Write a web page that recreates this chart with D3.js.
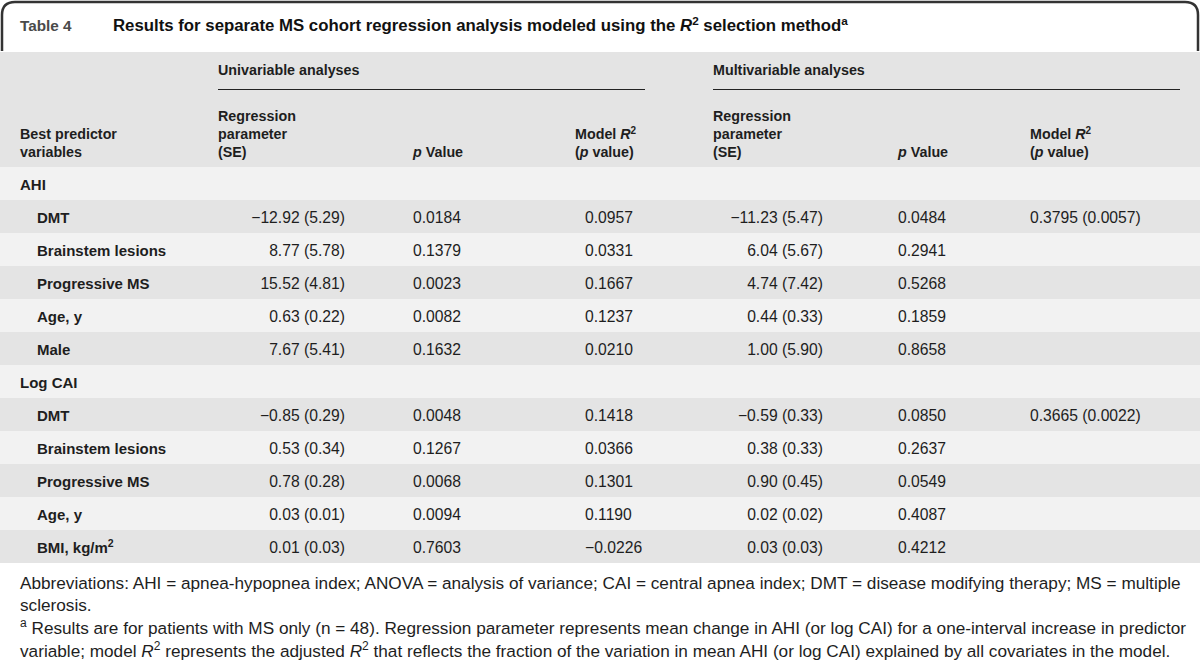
<!DOCTYPE html>
<html>
<head>
<meta charset="utf-8">
<script src="https://cdn.jsdelivr.net/npm/d3@7"></script>
<style>
  html, body { margin: 0; padding: 0; background: #fff; }
  svg { display: block; font-family: "Liberation Sans", "Helvetica", Arial, sans-serif; }
</style>
</head>
<body>
<svg id="chart" width="1200" height="667"></svg>
<script>
// ---------------- DATA ----------------
const tableNumber = "Table 4";
const groups = ["AHI", "Log CAI"];
const predictors = [
  ["DMT", "Brainstem lesions", "Progressive MS", "Age, y", "Male"],
  ["DMT", "Brainstem lesions", "Progressive MS", "Age, y", "BMI, kg/m²"]
];
const uniRegression = [
  ["−12.92 (5.29)", "8.77 (5.78)", "15.52 (4.81)", "0.63 (0.22)", "7.67 (5.41)"],
  ["−0.85 (0.29)", "0.53 (0.34)", "0.78 (0.28)", "0.03 (0.01)", "0.01 (0.03)"]
];
const uniPValue = [
  ["0.0184", "0.1379", "0.0023", "0.0082", "0.1632"],
  ["0.0048", "0.1267", "0.0068", "0.0094", "0.7603"]
];
const uniModelR2 = [
  ["0.0957", "0.0331", "0.1667", "0.1237", "0.0210"],
  ["0.1418", "0.0366", "0.1301", "0.1190", "−0.0226"]
];
const multiRegression = [
  ["−11.23 (5.47)", "6.04 (5.67)", "4.74 (7.42)", "0.44 (0.33)", "1.00 (5.90)"],
  ["−0.59 (0.33)", "0.38 (0.33)", "0.90 (0.45)", "0.02 (0.02)", "0.03 (0.03)"]
];
const multiPValue = [
  ["0.0484", "0.2941", "0.5268", "0.1859", "0.8658"],
  ["0.0850", "0.2637", "0.0549", "0.4087", "0.4212"]
];
const multiModelR2 = [
  ["0.3795 (0.0057)", "", "", "", ""],
  ["0.3665 (0.0022)", "", "", "", ""]
];
const spanners = ["Univariable analyses", "Multivariable analyses"];
const footnotes = [
  [{t: "Abbreviations: AHI = apnea-hypopnea index; ANOVA = analysis of variance; CAI = central apnea index; DMT = disease modifying therapy; MS = multiple"}],
  [{t: "sclerosis."}],
  [{t: "a", sup: true}, {t: " Results are for patients with MS only (n = 48). Regression parameter represents mean change in AHI (or log CAI) for a one-interval increase in predictor"}],
  [{t: "variable; model "}, {t: "R", i: true}, {t: "2", sup: true}, {t: " represents the adjusted "}, {t: "R", i: true}, {t: "2", sup: true}, {t: " that reflects the fraction of the variation in mean AHI (or log CAI) explained by all covariates in the model."}]
];
const titleSegs = [{t: "Results for separate MS cohort regression analysis modeled using the "}, {t: "R", i: true}, {t: "2", sup: true}, {t: " selection method"}, {t: "a", sup: true}];

// ---------------- LAYOUT ----------------
const W = 1200;
const svg = d3.select("#chart");
const C = {
  headBg: "#e4e4e4", light: "#f2f2f2", dark: "#e4e4e4", text: "#1e1e1e", border: "#333"
};
const F = {title: 16.8, head: 14.3, label: 15, value: 15.7, foot: 17.2};

function rich(sel, segs, size) {
  segs.forEach(s => {
    const ts = sel.append("tspan").text(s.t);
    if (s.i) ts.attr("font-style", "italic");
    if (s.sup) ts.attr("baseline-shift", "super").attr("font-size", size * 0.7);
  });
}

// Title bar with rounded top border
svg.append("path")
  .attr("d", "M2,51 V15 Q2,2 15,2 H1185 Q1198,2 1198,15 V51")
  .attr("fill", "#fff").attr("stroke", C.border).attr("stroke-width", 2.5);
svg.append("text").attr("x", 20).attr("y", 31)
  .attr("font-size", 15.3).attr("font-weight", "bold").attr("fill", "#4a4a4a").text(tableNumber);
rich(svg.append("text").attr("x", 113).attr("y", 31).attr("font-size", F.title).attr("font-weight", "bold").attr("fill", "#111"), titleSegs, F.title);

// Header background
const headTop = 52, headBottom = 167;
svg.append("rect").attr("x", 0).attr("y", headTop).attr("width", W).attr("height", headBottom - headTop).attr("fill", C.headBg);

// Build row list
const rows = [];
groups.forEach((g, gi) => {
  rows.push({type: "group", label: g});
  predictors[gi].forEach((p, pi) => rows.push({
    type: "item", label: p,
    vals: [uniRegression[gi][pi], uniPValue[gi][pi], uniModelR2[gi][pi], multiRegression[gi][pi], multiPValue[gi][pi], multiModelR2[gi][pi]]
  }));
});

const y = d3.scaleBand().domain(d3.range(rows.length)).range([headBottom, headBottom + 33 * rows.length]);

// Columns: anchor position and alignment for values
const cols = [
  {head: [[{t: "Regression"}], [{t: "parameter"}], [{t: "(SE)"}]], hx: 218, vx: 345, anchor: "end"},
  {head: [[{t: "p", i: true}, {t: " Value"}]], hx: 413, vx: 413, anchor: "start"},
  {head: [[{t: "Model "}, {t: "R", i: true}, {t: "2", sup: true}], [{t: "("}, {t: "p", i: true}, {t: " value)"}]], hx: 575, vx: 585, anchor: "start"},
  {head: [[{t: "Regression"}], [{t: "parameter"}], [{t: "(SE)"}]], hx: 713, vx: 823, anchor: "end"},
  {head: [[{t: "p", i: true}, {t: " Value"}]], hx: 898, vx: 898, anchor: "start"},
  {head: [[{t: "Model "}, {t: "R", i: true}, {t: "2", sup: true}], [{t: "("}, {t: "p", i: true}, {t: " value)"}]], hx: 1030, vx: 1030, anchor: "start"}
];

// Spanners
const spanX = [[218, 645], [713, 1180]];
spanners.forEach((s, i) => {
  svg.append("text").attr("x", spanX[i][0]).attr("y", 75).attr("font-size", F.head).attr("font-weight", "bold")
    .attr("fill", C.text).text(s);
  svg.append("line").attr("x1", spanX[i][0]).attr("x2", spanX[i][1]).attr("y1", 89.5).attr("y2", 89.5)
    .attr("stroke", "#222").attr("stroke-width", 1.2);
});

// Column headers (bottom aligned)
const headLineH = 18, headLast = 157;
function headBlock(lines, x) {
  lines.forEach((ln, li) => {
    const t = svg.append("text").attr("x", x).attr("y", headLast - (lines.length - 1 - li) * headLineH)
      .attr("font-size", F.head).attr("font-weight", "bold").attr("fill", C.text);
    rich(t, ln, F.head);
  });
}
headBlock([[{t: "Best predictor"}], [{t: "variables"}]], 20);
cols.forEach(c => headBlock(c.head, c.hx));

// Rows
const rowG = svg.append("g").selectAll("g").data(rows).join("g")
  .attr("transform", (d, i) => `translate(0,${y(i)})`);
rowG.append("rect").attr("width", W).attr("height", y.bandwidth())
  .attr("fill", (d, i) => i % 2 === 0 ? C.light : C.dark);
rowG.each(function(d) {
  const g = d3.select(this);
  const t = g.append("text").attr("x", d.type === "group" ? 20 : 37).attr("y", 22.5)
    .attr("font-size", F.label).attr("font-weight", "bold").attr("fill", C.text);
  rich(t, [{t: d.label.replace("²", "")}].concat(d.label.includes("²") ? [{t: "2", sup: true}] : []), F.label);
  if (d.vals) {
    d.vals.forEach((v, ci) => {
      g.append("text").attr("x", cols[ci].vx).attr("y", 22.5).attr("text-anchor", cols[ci].anchor)
        .attr("font-size", F.value).attr("fill", C.text).text(v);
    });
  }
});

// Footnotes
const fy = [589, 611, 634, 657];
footnotes.forEach((f, i) => {
  const t = svg.append("text").attr("x", 20).attr("y", fy[i]).attr("font-size", F.foot).attr("fill", C.text);
  rich(t, f, F.foot);
});
</script>
</body>
</html>
